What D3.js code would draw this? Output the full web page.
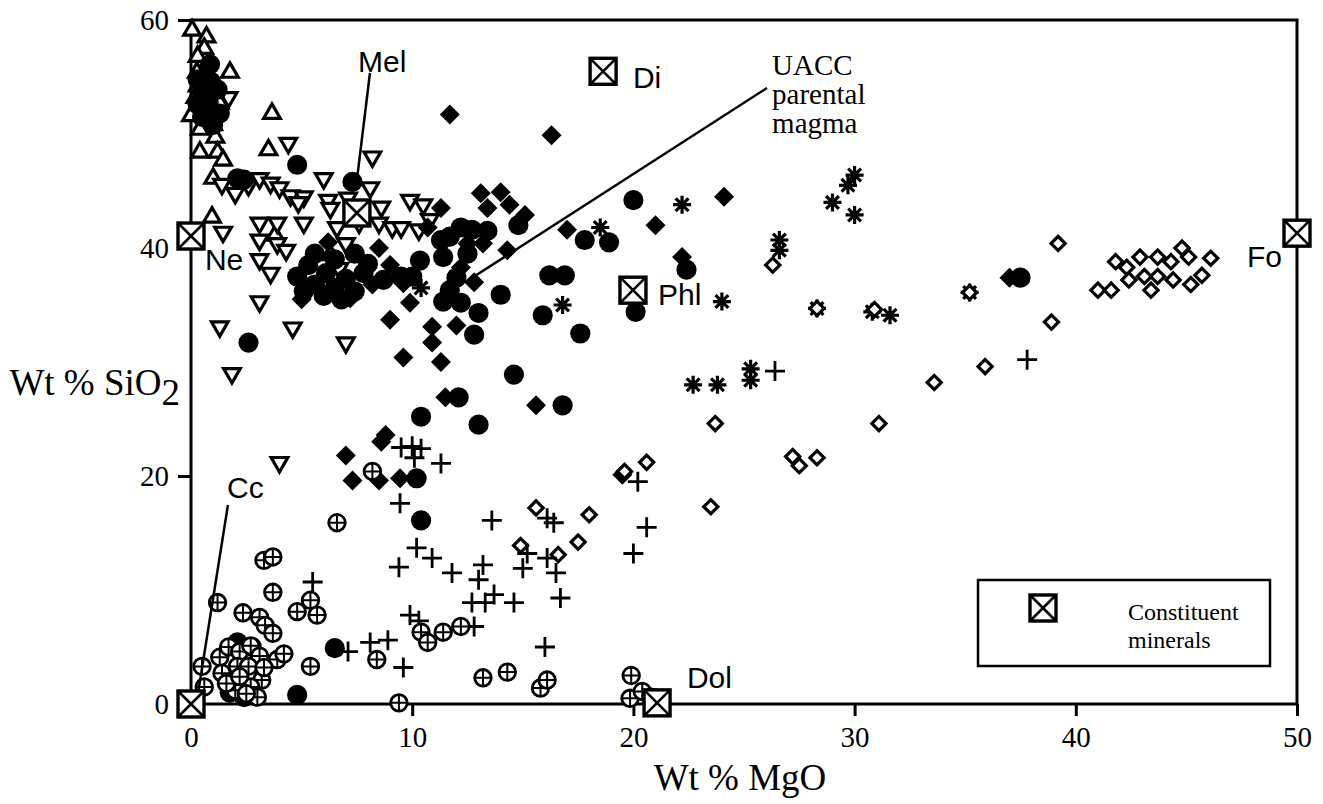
<!DOCTYPE html>
<html>
<head>
<meta charset="utf-8">
<script src="https://cdn.jsdelivr.net/npm/d3@7"></script>
<style>
  body { margin: 0; background: #fff; }
  svg { display: block; }
</style>
</head>
<body>
<svg id="chart"></svg>
<script>
// [MgO, SiO2] in wt %, one array per symbol
const openTriUp = [
  [0.05,59.1],[0.7,58.5],[0.6,57.5],[0.3,56.8],[1.76,55.4],[0.27,55.4],[0.3,54.2],[0.2,53.2],
  [1.3,52.7],[0.0,51.6],[3.66,51.8],[1.0,50.8],[0.4,50.4],[1.1,49.7],[3.5,48.6],[0.4,48.4],
  [1.2,48.4],[1.45,47.7],[1.0,46.1],[0.95,42.7],[3.8,41.1],[6.3,39.4]
];
const openTriDown = [
  [1.7,53.2],[4.4,49.2],[8.2,48.0],[1.4,45.6],[2.0,44.8],[2.6,45.5],[3.1,46.1],[3.6,45.7],
  [4.0,45.3],[4.5,44.6],[5.1,44.5],[6.0,46.1],[6.2,44.2],[8.1,45.3],[9.9,44.2],[10.5,43.8],
  [4.85,44.0],[6.3,43.5],[1.45,41.4],[3.1,42.2],[3.9,42.2],[5.1,42.2],[3.1,40.7],[3.9,40.4],
  [4.3,39.8],[3.1,39.0],[3.6,37.8],[6.6,41.8],[7.0,40.4],[7.6,42.2],[8.5,42.2],[9.1,41.8],
  [6.7,38.2],[9.5,41.8],[10.3,41.6],[10.8,42.5],[8.6,43.6],[7.1,44.4],[3.1,35.3],[1.3,33.1],
  [4.6,33.0],[7.0,31.7],[1.85,29.0],[4.0,21.2]
];
const filledCircle = [
  [0.86,56.1],[0.3,54.8],[0.9,54.6],[0.5,53.8],[1.2,53.9],[0.3,52.6],[0.8,52.8],[1.3,51.8],
  [0.5,51.5],[1.0,50.8],[4.8,47.3],[2.1,46.1],[2.4,46.0],[7.3,45.8],
  [4.8,37.5],[5.3,38.5],[5.6,36.8],[6.1,37.8],[6.5,36.5],[7.0,37.3],[7.4,36.2],[7.8,37.8],
  [5.1,36.2],[6.0,35.8],[6.8,35.5],[5.6,39.5],[6.5,39.0],[7.4,39.5],[8.0,38.6],[8.7,37.2],
  [9.5,37.5],[14.8,42.0],[12.2,41.8],[12.7,41.6],[11.7,41.0],[11.3,40.7],[11.4,39.2],[12.0,37.4],
  [11.7,36.3],[11.4,35.3],[12.2,35.2],[13.0,34.3],[12.8,32.4],[10.35,38.9],[10.0,37.5],[13.4,41.5],
  [12.5,39.5],[17.8,40.7],[18.9,40.5],[20.0,44.2],[22.4,38.1],[16.2,37.6],[16.9,37.6],[14.0,35.9],
  [15.9,34.1],[17.6,32.5],[20.1,34.4],[14.6,28.9],[16.8,26.2],[12.1,26.9],[10.4,25.2],[13.0,24.5],
  [37.5,37.4],[10.2,19.8],[10.4,16.1],[6.5,4.9],[4.8,0.8],[2.6,31.7],[2.1,5.4],[2.75,5.0],
  [1.75,1.0],[2.4,0.6]
];
const filledDiamond = [
  [11.7,51.7],[16.3,49.9],[24.1,44.5],[21.0,42.0],[22.2,39.2],[17.0,41.6],[13.1,44.8],[14.0,44.9],
  [14.4,43.8],[13.4,43.5],[15.1,42.9],[11.3,43.5],[10.7,41.8],[12.5,40.4],[13.2,40.4],[14.3,39.8],
  [12.2,38.3],[12.8,37.0],[9.9,35.2],[10.9,33.1],[12.0,33.2],[10.9,31.7],[9.6,30.4],[11.3,30.0],
  [9.0,33.7],[9.6,36.9],[15.6,26.2],[11.5,26.9],[5.0,35.5],[7.2,35.6],[8.2,36.8],[6.2,40.5],
  [9.0,38.5],[8.5,40.0],[0.6,53.3],[7.0,21.8],[7.3,19.6],[8.5,19.6],[8.8,23.6],[8.6,23.0],
  [9.45,19.8],[19.5,20.1],[37.0,37.4]
];
const asterisk = [
  [30.0,46.4],[29.7,45.5],[29.0,44.0],[30.0,42.9],[26.6,40.7],[26.6,39.8],[22.2,43.8],[18.5,41.8],
  [16.8,35.0],[24.0,35.3],[28.3,34.7],[30.8,34.4],[31.6,34.1],[35.2,36.1],[22.7,28.0],[23.8,28.0],
  [25.3,28.4],[25.3,29.4],[10.4,36.5]
];
const openDiamond = [
  [39.2,40.4],[41.8,38.8],[41.0,36.3],[41.6,36.3],[42.3,38.3],[42.4,37.2],[42.9,39.2],[43.1,37.5],
  [43.4,36.3],[43.7,39.2],[43.7,37.5],[44.3,38.8],[44.4,37.2],[44.8,40.0],[45.1,39.2],[45.2,36.8],
  [45.7,37.6],[46.1,39.1],[38.9,33.5],[35.9,29.6],[33.6,28.2],[31.1,24.6],[23.7,24.6],[23.5,17.3],
  [20.6,21.2],[19.6,20.4],[27.2,21.7],[27.5,20.9],[28.3,21.6],[26.3,38.5],[35.2,36.1],[30.9,34.6],
  [28.3,34.7],[18.0,16.6],[15.6,17.2],[17.5,14.2],[16.6,13.1],[14.9,13.9]
];
const plusMark = [
  [9.5,22.5],[10.0,22.6],[10.4,22.4],[10.1,21.6],[11.3,21.1],[9.45,17.6],[13.6,16.1],[5.5,10.7],
  [7.1,4.6],[8.1,5.4],[8.9,5.6],[9.6,3.2],[9.4,12.0],[10.2,13.7],[10.9,12.8],[11.8,11.5],
  [13.2,12.2],[13.0,10.9],[12.7,8.9],[13.3,8.9],[13.7,9.6],[14.6,8.9],[12.8,6.8],[9.9,7.8],
  [10.3,7.3],[15.0,11.9],[16.0,5.0],[16.7,9.3],[16.5,11.5],[16.1,12.8],[16.4,15.9],[16.1,16.3],
  [15.2,13.2],[20.0,13.2],[20.6,15.5],[20.2,19.5],[37.8,30.2],[26.4,29.2]
];
const circlePlus = [
  [1.2,8.9],[3.3,12.6],[3.7,12.9],[3.7,9.8],[2.35,8.0],[3.1,7.6],[3.35,6.9],[3.7,6.2],
  [4.8,8.1],[5.4,9.1],[5.7,7.8],[6.6,15.9],[5.4,3.3],[3.9,3.9],[0.5,3.3],[0.6,1.5],
  [1.3,4.1],[1.4,2.7],[1.7,5.0],[2.2,4.6],[2.7,5.1],[3.1,4.2],[2.1,3.3],[2.6,3.3],
  [3.2,2.1],[2.7,1.5],[2.0,1.2],[1.6,1.8],[2.2,2.4],[3.0,0.6],[2.5,0.9],[4.2,4.4],
  [3.3,3.2],[8.4,3.9],[9.4,0.1],[10.4,6.3],[10.7,5.4],[11.4,6.3],[12.2,6.8],[13.2,2.3],
  [14.3,2.8],[15.8,1.4],[16.1,2.1],[19.9,2.5],[19.85,0.5],[20.4,1.1],[20.8,0.6],[8.2,20.4]
];
// constituent minerals
const mineralNames = ["Ne", "Mel", "Di", "Phl", "Fo", "Cc", "Dol"];
const mineralPoints = [[0,41.05],[7.5,43.07],[18.63,55.5],[19.98,36.3],[50,41.3],[0,0],[21.07,0.1]];

const xTicks = [0, 10, 20, 30, 40, 50];
const yTicks = [0, 20, 40, 60];

class CompositionPlot {

  constructor(_config) {
    this.config = {
      parentElement: _config.parentElement,
      containerWidth: _config.containerWidth || 1323,
      containerHeight: _config.containerHeight || 804,
      margin: _config.margin || {top: 20, right: 26, bottom: 100, left: 191}
    }
    this.initVis();
  }

  initVis() {
    let vis = this;
    vis.width = vis.config.containerWidth - vis.config.margin.left - vis.config.margin.right;
    vis.height = vis.config.containerHeight - vis.config.margin.top - vis.config.margin.bottom;
    vis.serif = '"Liberation Serif", "Times New Roman", serif';
    vis.sans = '"Liberation Sans", Arial, sans-serif';

    vis.svg = d3.select(vis.config.parentElement)
      .attr('width', vis.config.containerWidth)
      .attr('height', vis.config.containerHeight);

    vis.chart = vis.svg.append('g')
      .attr('transform', `translate(${vis.config.margin.left},${vis.config.margin.top})`);

    vis.xScale = d3.scaleLinear().domain([0, 50]).range([0, vis.width]);
    vis.yScale = d3.scaleLinear().domain([0, 60]).range([vis.height, 0]);

    //Frame round the plot
    vis.chart.append('rect')
      .attr('width', vis.width)
      .attr('height', vis.height)
      .attr('fill', 'none')
      .attr('stroke', 'black')
      .attr('stroke-width', 3);

    //Axes
    let xAxis = d3.axisBottom(vis.xScale).tickValues(xTicks).tickSize(12).tickPadding(10);
    let yAxis = d3.axisLeft(vis.yScale).tickValues(yTicks).tickSize(13).tickPadding(9);

    vis.xAxisG = vis.chart.append('g')
      .attr('transform', `translate(0,${vis.height})`)
      .call(xAxis);
    vis.yAxisG = vis.chart.append('g').call(yAxis);

    [vis.xAxisG, vis.yAxisG].forEach(g => {
      g.select('.domain').remove();
      g.selectAll('.tick line').attr('stroke-width', 3);
      g.selectAll('.tick text')
        .style('font-family', vis.serif)
        .style('font-size', '29px')
        .attr('fill', 'black');
    });

    //Axis titles
    vis.svg.append('text')
      .attr('x', 740)
      .attr('y', 790)
      .attr('text-anchor', 'middle')
      .style('font-family', vis.serif)
      .style('font-size', '37px')
      .text('Wt % MgO');

    let yTitle = vis.svg.append('text')
      .attr('x', 180)
      .attr('y', 395)
      .attr('text-anchor', 'end')
      .style('font-family', vis.serif)
      .style('font-size', '37px');
    yTitle.append('tspan').text('Wt % SiO');
    yTitle.append('tspan').attr('dy', 10).text('2');

    vis.renderVis();
  }

  renderVis() {
    let vis = this;
    let x = d => vis.xScale(d[0]);
    let y = d => vis.yScale(d[1]);
    let at = d => `translate(${x(d)},${y(d)})`;

    let triangle = d3.symbol(d3.symbolTriangle, 120)();
    let dot = d3.symbol(d3.symbolCircle, 320)();
    let bigSquare = d3.symbol(d3.symbolSquare, 200)();
    let smallSquare = d3.symbol(d3.symbolSquare, 100)();
    let plusPath = 'M-10,0H10M0,-10V10';
    let starPath = 'M-9,0H9M0,-9V9M-6.4,-6.4L6.4,6.4M-6.4,6.4L6.4,-6.4';

    let marks = vis.chart.append('g');

    //Open triangles pointing up
    marks.append('g').selectAll('path')
      .data(openTriUp)
      .join('path')
      .attr('d', triangle)
      .attr('transform', d => at(d))
      .attr('fill', 'white')
      .attr('stroke', 'black')
      .attr('stroke-width', 3.2);

    //Open triangles pointing down
    marks.append('g').selectAll('path')
      .data(openTriDown)
      .join('path')
      .attr('d', triangle)
      .attr('transform', d => at(d) + ' rotate(180)')
      .attr('fill', 'white')
      .attr('stroke', 'black')
      .attr('stroke-width', 3.2);

    //Filled circles
    marks.append('g').selectAll('path')
      .data(filledCircle)
      .join('path')
      .attr('d', dot)
      .attr('transform', d => at(d))
      .attr('fill', 'black');

    //Filled diamonds
    marks.append('g').selectAll('path')
      .data(filledDiamond)
      .join('path')
      .attr('d', bigSquare)
      .attr('transform', d => at(d) + ' rotate(45)')
      .attr('fill', 'black');

    //Asterisks
    marks.append('g').selectAll('path')
      .data(asterisk)
      .join('path')
      .attr('d', starPath)
      .attr('transform', d => at(d))
      .attr('fill', 'none')
      .attr('stroke', 'black')
      .attr('stroke-width', 3.2);

    //Open diamonds
    marks.append('g').selectAll('path')
      .data(openDiamond)
      .join('path')
      .attr('d', smallSquare)
      .attr('transform', d => at(d) + ' rotate(45)')
      .attr('fill', 'white')
      .attr('stroke', 'black')
      .attr('stroke-width', 3.2);

    //Plus signs
    marks.append('g').selectAll('path')
      .data(plusMark)
      .join('path')
      .attr('d', plusPath)
      .attr('transform', d => at(d))
      .attr('stroke', 'black')
      .attr('stroke-width', 2.8);

    //Circles with a cross inside
    let cp = marks.append('g').selectAll('g')
      .data(circlePlus)
      .join('g')
      .attr('transform', d => at(d));
    cp.append('circle')
      .attr('r', 8.3)
      .attr('fill', 'white')
      .attr('stroke', 'black')
      .attr('stroke-width', 2.8);
    cp.append('path')
      .attr('d', 'M-8,0H8M0,-8V8')
      .attr('stroke', 'black')
      .attr('stroke-width', 2);

    //Leader lines for the labels
    let leaders = [
      [[8.09, 55.35], [7.5, 45.96]],
      [[1.67, 17.46], [0.27, 0.35]],
      [[26.04, 54.04], [12.48, 37.1]]
    ];
    vis.chart.append('g').selectAll('line')
      .data(leaders)
      .join('line')
      .attr('x1', d => x(d[0])).attr('y1', d => y(d[0]))
      .attr('x2', d => x(d[1])).attr('y2', d => y(d[1]))
      .attr('stroke', 'black')
      .attr('stroke-width', 2.5);

    //Constituent minerals: boxed crosses
    let boxed = (sel) => {
      sel.append('rect')
        .attr('x', -13).attr('y', -13)
        .attr('width', 26).attr('height', 26)
        .attr('fill', 'white')
        .attr('stroke', 'black')
        .attr('stroke-width', 3.4);
      sel.append('path')
        .attr('d', 'M-13,-13L13,13M-13,13L13,-13')
        .attr('stroke', 'black')
        .attr('stroke-width', 2.6);
    };
    vis.chart.append('g').selectAll('g')
      .data(mineralPoints)
      .join('g')
      .attr('transform', d => at(d))
      .call(boxed);

    //Mineral labels, placed in data units
    let labelAt = {Ne: [0.63, 38.07], Mel: [7.55, 55.44], Di: [19.98, 54.04], Phl: [21.11, 35.0],
                   Fo: [47.74, 38.33], Cc: [1.63, 18.07], Dol: [22.42, 1.4]};
    vis.chart.append('g').selectAll('text')
      .data(mineralNames)
      .join('text')
      .attr('x', d => x(labelAt[d]))
      .attr('y', d => y(labelAt[d]))
      .style('font-family', vis.sans)
      .style('font-size', '30px')
      .text(d => d);

    //UACC parental magma note
    let note = vis.chart.append('text')
      .attr('x', x([26.27, 0]))
      .attr('y', y([0, 55.18]))
      .style('font-family', vis.serif)
      .style('font-size', '29px');
    ['UACC', 'parental', 'magma'].forEach((t, i) => {
      note.append('tspan')
        .attr('x', x([26.27, 0]))
        .attr('dy', i === 0 ? 0 : 29)
        .text(t);
    });

    //Legend
    let legend = vis.svg.append('g').attr('transform', 'translate(978,580)');
    legend.append('rect')
      .attr('width', 292)
      .attr('height', 86)
      .attr('fill', 'white')
      .attr('stroke', 'black')
      .attr('stroke-width', 2.5);
    legend.append('g')
      .attr('transform', 'translate(65,28)')
      .call(boxed);
    legend.append('text')
      .attr('x', 150).attr('y', 40)
      .style('font-family', vis.serif)
      .style('font-size', '24px')
      .text('Constituent');
    legend.append('text')
      .attr('x', 150).attr('y', 68)
      .style('font-family', vis.serif)
      .style('font-size', '24px')
      .text('minerals');
  }
}

let plot = new CompositionPlot({parentElement: '#chart'});
</script>
</body>
</html>
